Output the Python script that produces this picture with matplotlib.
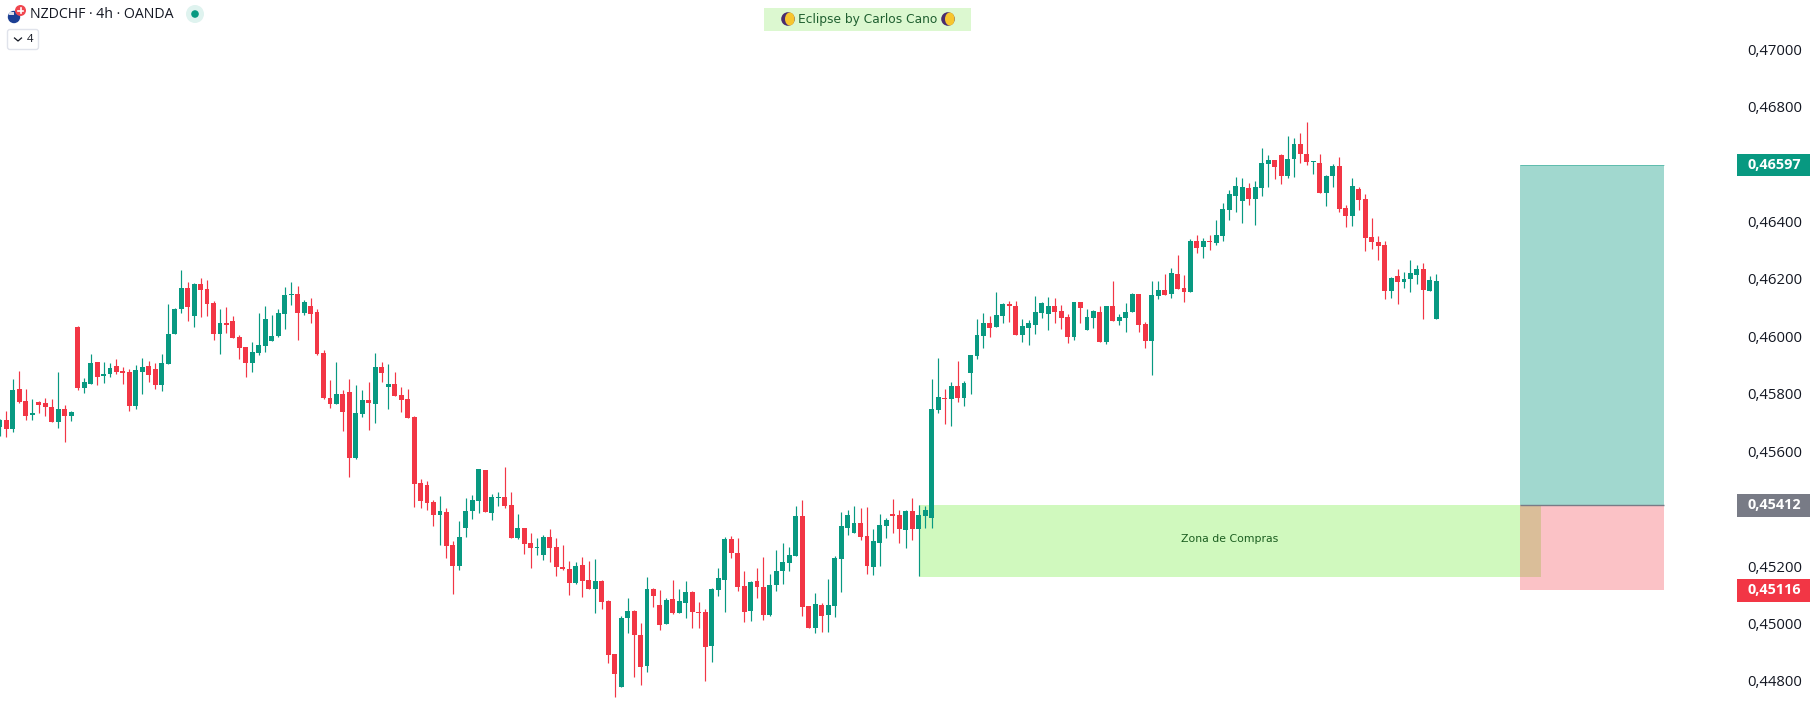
import numpy as np
import matplotlib
matplotlib.use("Agg")
import matplotlib.pyplot as plt
from matplotlib.patches import Rectangle, Circle, Ellipse, FancyBboxPatch

plt.rcParams['font.family'] = ['Open Sans', 'DejaVu Sans']

# NZDCHF 4h candles, prices in units of 0.00001
highs = [
    45713,45740,45852,45880,45817,45782,45775,45786,45782,45876,
    45761,45740,46036,45855,45939,45911,45911,45908,45922,45894,
    45887,45901,45925,45915,45908,45939,46113,46099,46232,46190,
    46186,46204,46197,46124,46096,46103,46071,46005,45963,45981,
    46082,46106,46075,46096,46172,46190,46176,46127,46134,46095,
    45953,45848,45911,45813,45852,45831,45813,45841,45942,45911,
    45904,45876,45824,45817,45723,45503,45496,45430,45444,45402,
    45287,45357,45437,45447,45538,45535,45451,45458,45545,45458,
    45381,45333,45315,45298,45308,45329,45298,45273,45218,45214,
    45232,45218,45225,45152,45082,44894,45027,45089,45048,45002,
    45162,45124,45117,45089,45152,45121,45149,45114,45075,45051,
    45124,45194,45302,45305,45298,45183,45149,45194,45232,45173,
    45257,45281,45267,45410,45431,45061,45107,45072,45156,45236,
    45389,45396,45410,45403,45406,45330,45382,45368,45434,45396,
    45396,45438,45413,45410,45852,45925,45817,45842,45915,45845,
    45936,46060,46081,46071,46154,46116,46123,46123,46060,46057,
    46140,46120,46137,46133,46109,46078,46120,46120,46095,46092,
    46106,46106,46193,46078,46116,46151,46147,46050,46193,46193,
    46217,46240,46283,46214,46339,46353,46343,46353,46405,46465,
    46510,46555,46552,46535,46542,46657,46632,46615,46636,46698,
    46691,46709,46747,46611,46636,46563,46601,46625,46458,46552,
    46521,46496,46413,46350,46333,46207,46235,46225,46267,46249,
    46256,46211,46218,
]
body_tops = [
    45709,45709,45814,45817,45775,45733,45772,45768,45754,45747,
    45747,45737,46033,45841,45908,45911,45869,45890,45897,45880,
    45876,45883,45894,45897,45887,45908,46009,46096,46169,46169,
    46183,46183,46165,46117,46047,46047,46054,45998,45963,45946,
    45970,46061,46002,46082,46144,46148,46148,46120,46106,46085,
    45942,45785,45799,45799,45806,45733,45778,45778,45893,45893,
    45834,45834,45796,45782,45719,45489,45482,45423,45392,45388,
    45273,45301,45392,45430,45538,45535,45441,45441,45441,45413,
    45333,45333,45280,45266,45301,45301,45266,45197,45190,45200,
    45204,45152,45149,45149,45079,44894,45020,45044,45044,44960,
    45121,45121,45065,45082,45086,45079,45110,45110,45041,45041,
    45121,45159,45295,45295,45246,45131,45145,45149,45128,45135,
    45183,45215,45239,45375,45375,45061,45068,45065,45065,45229,
    45340,45378,45351,45351,45305,45288,45344,45361,45382,45378,
    45392,45392,45378,45396,45748,45789,45786,45828,45828,45838,
    45936,46005,46046,46046,46074,46113,46113,46106,46036,46046,
    46085,46116,46106,46106,46088,46067,46120,46120,46067,46088,
    46085,46106,46106,46067,46085,46147,46147,46043,46144,46161,
    46161,46221,46217,46168,46332,46332,46332,46332,46353,46444,
    46496,46524,46521,46517,46521,46604,46615,46615,46632,46618,
    46671,46671,46636,46611,46604,46559,46594,46594,46448,46524,
    46514,46479,46347,46329,46319,46204,46211,46200,46221,46235,
    46235,46197,46193,
]
body_bottoms = [
    45685,45678,45678,45772,45723,45726,45761,45754,45702,45702,
    45723,45723,45821,45821,45834,45859,45862,45869,45876,45873,
    45758,45758,45876,45866,45831,45831,45904,46009,46096,46103,
    46071,46162,46113,46009,46009,46040,45995,45960,45908,45908,
    45942,45967,45984,46002,46078,46144,46082,46081,46078,45939,
    45785,45764,45764,45737,45576,45576,45730,45768,45764,45872,
    45824,45792,45778,45716,45486,45427,45420,45378,45378,45270,
    45200,45200,45333,45392,45427,45388,45385,45437,45409,45298,
    45298,45277,45263,45263,45239,45263,45197,45190,45141,45141,
    45148,45121,45121,45075,44891,44825,44779,45020,44960,44849,
    44853,45096,44995,44999,45037,45037,45072,45041,45037,44919,
    44922,45117,45152,45246,45128,45041,45044,45128,45030,45030,
    45135,45183,45211,45236,45058,44985,44985,45027,45030,45061,
    45225,45333,45316,45302,45201,45197,45281,45340,45375,45330,
    45326,45330,45330,45375,45368,45744,45783,45783,45786,45786,
    45873,45931,46001,46029,46032,46071,46106,46005,46005,46029,
    46039,46081,46078,46085,46064,45998,45998,46099,46022,46064,
    45980,45980,46053,46053,46064,46085,46039,45984,45984,46140,
    46144,46147,46165,46155,46155,46308,46311,46329,46325,46350,
    46440,46489,46472,46479,46479,46517,46601,46590,46559,46559,
    46618,46636,46608,46608,46500,46500,46559,46444,46420,46420,
    46476,46343,46329,46315,46159,46159,46190,46190,46200,46214,
    46162,46159,46061,
]
lows = [
    45653,45650,45667,45768,45709,45709,45733,45723,45702,45681,
    45632,45706,45814,45803,45834,45831,45838,45859,45869,45834,
    45740,45747,45800,45841,45817,45810,45904,46009,46082,46054,
    46033,46068,46071,45988,45939,46012,45995,45922,45859,45876,
    45935,45946,45984,45998,46026,46110,45988,46074,46047,45935,
    45782,45751,45764,45670,45510,45573,45719,45674,45698,45841,
    45747,45792,45737,45716,45406,45402,45395,45340,45273,45228,
    45103,45186,45301,45364,45385,45388,45360,45409,45402,45298,
    45294,45242,45193,45239,45221,45214,45165,45186,45099,45137,
    45092,45121,45037,45051,44863,44745,44779,44967,44814,44786,
    44832,45058,44978,44999,45034,45037,45020,44985,44985,44800,
    44866,45096,45041,45229,45114,45006,45009,45089,45013,45027,
    45114,45138,45183,45236,45027,44985,44967,44971,44971,45023,
    45110,45309,45316,45291,45173,45169,45201,45298,45316,45281,
    45264,45291,45166,45333,45333,45734,45695,45688,45772,45758,
    45800,45921,45959,45998,46032,46046,46050,46005,45980,45970,
    46008,46064,46022,46046,46026,45977,45987,46046,46022,46029,
    45980,45973,46053,46039,46015,46085,46015,45959,45865,46130,
    46144,46133,46165,46120,46155,46290,46273,46301,46318,46332,
    46405,46433,46395,46458,46388,46489,46521,46549,46531,46552,
    46556,46604,46597,46566,46500,46455,46521,46434,46381,46385,
    46441,46298,46305,46267,46131,46134,46113,46169,46155,46183,
    46061,46159,46061,
]
# G = up candle, R = down candle
directions = (
    "GRGRRGRRRG" "RGRGGRGGRR" "RGGRRGGGGR" "GRRRGRRRRG" "GGGGGGRGRR"
    "RRGRRGGRGR" "GRRRRRRRGR" "RGGGGRGGRR" "GRRGGRRRRG" "RRGRRRGGRR"
    "GRRGRGGRRR" "GGGRRRGRRG" "GGGGRRGRGG" "GGGRRGGGRR" "GRGGGGRGRG"
    "GGGRGGRRGG" "GGGRRRGRGG" "RGRGGGRRGG" "RGRRGRGRGG" "GGGRGGGRRG"
    "GRRGRGGRRG" "RRRRRGRGGG" "RGG"
)

tick_prices = [0.470, 0.468, 0.464, 0.462, 0.460, 0.458, 0.456, 0.452, 0.450, 0.448]

take_profit = 0.46597
entry = 0.45412
stop_loss = 0.45116
zone_low = 0.45162

GREEN = "#089981"
RED = "#F23645"
GREY = "#787B86"

fig = plt.figure(figsize=(18.14, 7.16), dpi=100, facecolor="white")
# price pane, the scale sits to the right of it
ax = fig.add_axes([0, 0, 1736 / 1814, 1])
ax.set_xlim(0, 1736 / 6.47)
ax.set_ylim(0.44678, 0.471717)
for spine in ax.spines.values():
    spine.set_visible(False)

idx = np.arange(len(highs))
colors = [GREEN if d == "G" else RED for d in directions]
tops = np.array(body_tops) / 1e5
bottoms = np.array(body_bottoms) / 1e5

ax.vlines(idx, np.array(lows) / 1e5, np.array(highs) / 1e5, colors=colors, linewidth=0.85, zorder=3)
ax.bar(idx, tops - bottoms, bottom=bottoms, width=0.76, color=colors, linewidth=0, zorder=4)

# buy zone and long position tool
ax.add_patch(Rectangle((142.06, zone_low), 238.2 - 142.06, entry - zone_low,
                       facecolor="#80F050", alpha=0.37, linewidth=0, zorder=1))
ax.text(190.1, 0.45294, "Zona de Compras", ha="center", va="center", fontsize=7.85,
        family=["DejaVu Sans"], color="#1B5E20", zorder=5)
ax.add_patch(Rectangle((235.0, entry), 22.2, take_profit - entry,
                       facecolor=GREEN, alpha=0.38, linewidth=0, zorder=2))
ax.add_patch(Rectangle((235.0, stop_loss), 22.2, entry - stop_loss,
                       facecolor=RED, alpha=0.30, linewidth=0, zorder=2))
ax.hlines(entry, 235.0, 257.2, colors=GREY, linewidth=1, zorder=5)
ax.hlines(take_profit, 235.0, 257.2, colors=GREEN, linewidth=0.6, alpha=0.5, zorder=5)

# price scale
ax.yaxis.tick_right()
ax.set_yticks(tick_prices)
ax.set_yticklabels([f"{p:.5f}".replace(".", ",") for p in tick_prices], fontsize=10.7, color="#131722")
ax.tick_params(axis="y", length=0, pad=8)
ax.set_xticks([])

trans = ax.get_yaxis_transform()
for price, col in [(take_profit, GREEN), (entry, GREY), (stop_loss, RED)]:
    ax.add_patch(Rectangle((1.0006, price - 0.00040), 73 / 1736, 0.00080, transform=trans,
                           facecolor=col, linewidth=0, clip_on=False, zorder=6))
    ax.text(1.0064, price, f"{price:.5f}".replace(".", ","), transform=trans, ha="left", va="center",
            fontsize=10.4, fontweight="bold", color="white", clip_on=False, zorder=7)

# header decorations, in screen pixels
ui = fig.add_axes([0, 0, 1, 1], zorder=10)
ui.set_xlim(0, 1814)
ui.set_ylim(716, 0)
ui.axis("off")
ui.patch.set_alpha(0)

ui.add_patch(Circle((14, 17), 6.2, facecolor="#1C3F94", linewidth=0))
ui.add_patch(Rectangle((9, 12), 5, 3, facecolor="#D8DDE8", linewidth=0))
ui.add_patch(Circle((20.5, 10.5), 5.5, facecolor="#F0474F", linewidth=0))
ui.plot([18, 23], [10.5, 10.5], color="white", linewidth=1.2)
ui.plot([20.5, 20.5], [8, 13], color="white", linewidth=1.2)
ui.text(30, 15, "NZDCHF · 4h · OANDA", ha="left", va="center", fontsize=10.2, color="#131722")
ui.add_patch(Circle((195, 14), 9, facecolor="#DFF3EF", linewidth=0))
ui.add_patch(Circle((195, 14), 3.8, facecolor=GREEN, linewidth=0))

ui.add_patch(FancyBboxPatch((7.5, 29.5), 31, 20, boxstyle="round,pad=0,rounding_size=2.5",
                            facecolor="white", edgecolor="#E0E3EB", linewidth=1))
ui.plot([14.5, 18, 21.5], [38, 41, 38], color="#131722", linewidth=0.9)
ui.text(27, 39.5, "4", ha="left", va="center", fontsize=8.2, color="#131722")

ui.add_patch(Rectangle((764, 8), 207, 23, facecolor="#DCF8D0", linewidth=0))
ui.text(868, 19.5, "Eclipse by Carlos Cano", ha="center", va="center", fontsize=8.8,
        family=["DejaVu Sans"], color="#1F5F30")
for mx in (788, 948):
    ui.add_patch(Circle((mx, 19), 6.8, facecolor="#4A2C6E", linewidth=0))
    ui.add_patch(Ellipse((mx + 1.8, 19), 9.6, 13, facecolor="#F7C52E", linewidth=0))

fig.savefig("out.png", dpi=100)
